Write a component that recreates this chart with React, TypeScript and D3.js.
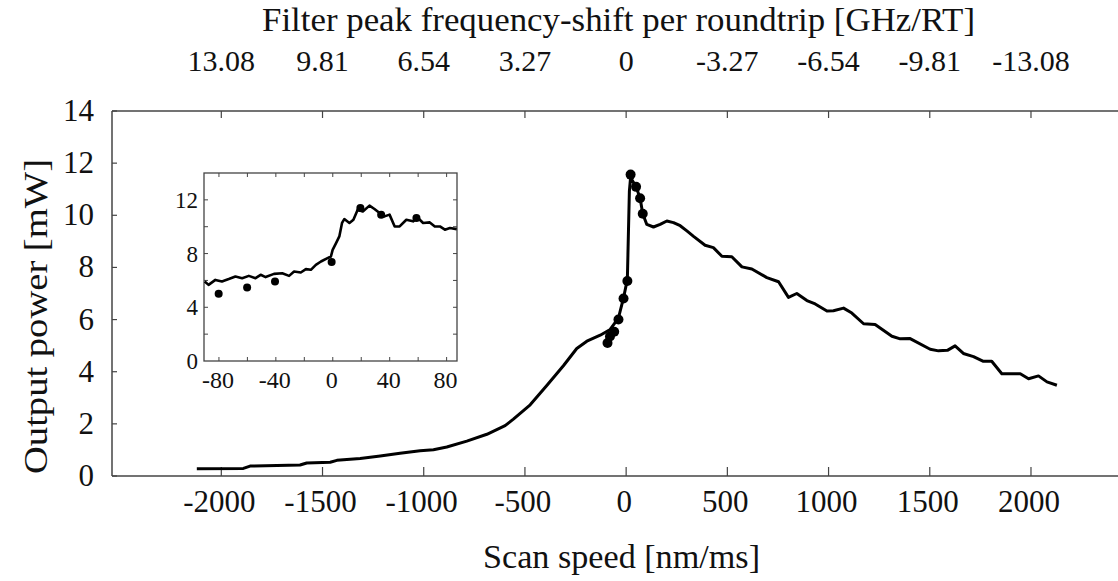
import React from "react";
import * as d3 from "d3";

// ---- main curve: scan speed [nm/ms] vs output power [mW]
const scanSpeed = [
  -2121, -1891, -1858, -1611, -1578, -1462, -1429, -1314, -1215, -1117, -1018, -952, -886, -787, -688, -598, -557,
  -474, -392, -310, -244, -194, -128, -79, -38, -13, 6, 16, 22, 49, 69, 82, 102, 135, 168, 201, 234, 267, 300,
  333, 390, 431, 473, 522, 572, 621, 695, 753, 802, 843, 893, 934, 992, 1024, 1074, 1115, 1173, 1230, 1313,
  1354, 1403, 1502, 1543, 1587, 1625, 1666, 1716, 1765, 1806, 1856, 1947, 1988, 2037, 2079, 2128,
];
const outputPower = [
  0.28, 0.29, 0.38, 0.42, 0.5, 0.53, 0.6, 0.67, 0.77, 0.87, 0.97, 1.01, 1.11, 1.34, 1.6, 1.93, 2.18,
  2.73, 3.47, 4.23, 4.89, 5.17, 5.4, 5.62, 6.06, 6.83, 7.54, 10.93, 11.45, 11.09, 10.65, 10.06, 9.65, 9.55, 9.65, 9.78, 9.72, 9.6, 9.4,
  9.19, 8.85, 8.76, 8.43, 8.41, 8.02, 7.94, 7.61, 7.45, 6.85, 7.0, 6.73, 6.6, 6.33, 6.34, 6.44, 6.25, 5.84, 5.81, 5.36,
  5.26, 5.27, 4.86, 4.8, 4.82, 4.99, 4.7, 4.58, 4.4, 4.4, 3.92, 3.92, 3.73, 3.84, 3.61, 3.48,
];
// measured points (dots) on the main curve
const dotSpeed = [-92, -80, -59, -38, -13, 6, 22, 49, 69, 82];
const dotPower = [5.1, 5.35, 5.53, 6.0, 6.81, 7.48, 11.56, 11.09, 10.65, 10.06];

// ---- inset
const insetSpeed = [
  -90, -87.3, -82.5, -77.9, -73.1, -68.4, -63.7, -59, -54.3, -50.7, -47.2, -41.3, -35.5, -30.7, -27.2, -22.5, -18.9,
  -15.4, -11.9, -8.3, -3.7, -1.3, -0.1, 2.3, 4.6, 6.5, 8.1, 11.7, 14.5, 17.5, 21.1, 25.8, 29.3, 32.9, 36.4, 39.9,
  43.5, 47, 51.7, 56.4, 59.9, 63.5, 68.2, 71.7, 75.3, 78.8, 82.3, 87.1,
];
const insetPower = [
  5.92, 5.67, 6.04, 5.92, 6.1, 6.29, 6.17, 6.34, 6.17, 6.42, 6.25, 6.49, 6.54, 6.34, 6.66, 6.59, 6.84,
  6.79, 7.16, 7.41, 7.66, 7.78, 8.28, 8.78, 9.28, 10.28, 10.57, 10.28, 10.52, 11.27, 11.14, 11.57, 11.32, 11.02, 10.77, 10.9,
  10.02, 10.02, 10.52, 10.4, 10.65, 10.28, 10.32, 10.02, 10.02, 9.78, 9.9, 9.82,
];
const insetDotSpeed = [-80.2, -60.2, -40.6, -0.8, 19.4, 34, 58.8];
const insetDotPower = [5.0, 5.47, 5.92, 7.37, 11.4, 10.9, 10.65];

// ---- ticks
const xTicks = [-2000, -1500, -1000, -500, 0, 500, 1000, 1500, 2000];
const yTicks = [0, 2, 4, 6, 8, 10, 12, 14];
const topTicks = [13.08, 9.81, 6.54, 3.27, 0, -3.27, -6.54, -9.81, -13.08];
const ghzPerSpeed = -0.00654; // GHz/RT per nm/ms
const insetXTicks = [-80, -40, 0, 40, 80];
const insetXMinor = [-80, -60, -40, -20, 0, 20, 40, 60, 80];
const insetYTicks = [0, 4, 8, 12];
const insetYMinor = [2, 4, 6, 8, 10, 12];

const FONT = "Liberation Serif, Times New Roman, Times, serif";

export default function App() {
  const W = 1118, H = 581;
  const xDom: [number, number] = [-2540, 2420];
  const x = d3.scaleLinear().domain(xDom).range([112, 1116]);
  const xTop = d3.scaleLinear().domain([xDom[0] * ghzPerSpeed, xDom[1] * ghzPerSpeed]).range([112, 1116]);
  const y = d3.scaleLinear().domain([0, 14]).range([476, 111]);

  const ix = d3.scaleLinear().domain([-90.5, 87.3]).range([204, 457]);
  const iy = d3.scaleLinear().domain([0, 14]).range([361, 173]);

  const mainPts = scanSpeed.map((s, i) => [s, outputPower[i]] as [number, number]);
  const insetPts = insetSpeed.map((s, i) => [s, insetPower[i]] as [number, number]);
  const line = d3.line<[number, number]>().x((d) => x(d[0])).y((d) => y(d[1]));
  const iline = d3.line<[number, number]>().x((d) => ix(d[0])).y((d) => iy(d[1]));

  const axisColor = "#444";
  const ts = { fontFamily: FONT };
  return (
    <svg width={W} height={H} style={{ position: "absolute", left: 0, top: 0, background: "#fff", fontFamily: FONT }}>
      <rect width={W} height={H} fill="#fff" />
      {/* title */}
      <text x={262} y={31} fontSize={33} style={ts} textLength={713} lengthAdjust="spacingAndGlyphs" fill="#111">
        Filter peak frequency-shift per roundtrip [GHz/RT]
      </text>
      {/* top axis */}
      <line x1={112} x2={W} y1={111} y2={111} stroke={axisColor} strokeWidth={1.5} />
      {topTicks.map((t) => (
        <g key={"tt" + t}>
          <line x1={xTop(t)} x2={xTop(t)} y1={111} y2={118} stroke={axisColor} strokeWidth={1.2} />
          <text x={xTop(t)} y={71} fontSize={30} style={ts} textAnchor="middle" fill="#111">
            {String(t)}
          </text>
        </g>
      ))}
      {/* left axis */}
      <line x1={112} x2={112} y1={111} y2={476} stroke={axisColor} strokeWidth={1.5} />
      {yTicks.map((t) => (
        <g key={"yt" + t}>
          <line x1={112} x2={117} y1={y(t)} y2={y(t)} stroke={axisColor} strokeWidth={1.2} />
          <text x={94} y={y(t) + 10} fontSize={31} style={ts} textAnchor="end" fill="#111">
            {t}
          </text>
        </g>
      ))}
      {/* bottom axis */}
      <line x1={112} x2={W} y1={476} y2={476} stroke={axisColor} strokeWidth={1.5} />
      {xTicks.map((t) => (
        <g key={"xt" + t}>
          <line x1={x(t)} x2={x(t)} y1={476} y2={467} stroke={axisColor} strokeWidth={1.2} />
          <text x={x(t) - 2} y={512} fontSize={31} style={ts} textAnchor="middle" fill="#111">
            {String(t)}
          </text>
        </g>
      ))}
      <text x={483} y={568} fontSize={34} style={ts} textLength={277} lengthAdjust="spacingAndGlyphs" fill="#111">
        Scan speed [nm/ms]
      </text>
      <text
        transform="translate(47,474) rotate(-90)"
        fontSize={34}
        style={ts}
        textLength={315}
        lengthAdjust="spacingAndGlyphs"
        fill="#111"
      >
        Output power [mW]
      </text>

      {/* main curve */}
      <path d={line(mainPts) || ""} fill="none" stroke="#000" strokeWidth={3} strokeLinejoin="round" />
      {dotSpeed.map((s, i) => (
        <circle key={"d" + i} cx={x(s)} cy={y(dotPower[i])} r={5} fill="#000" />
      ))}

      {/* inset */}
      <rect x={204} y={173} width={253} height={188} fill="#fff" stroke={axisColor} strokeWidth={1.3} />
      {insetXMinor.map((t) => (
        <g key={"ixm" + t}>
          <line x1={ix(t)} x2={ix(t)} y1={361} y2={357} stroke={axisColor} strokeWidth={1} />
          <line x1={ix(t)} x2={ix(t)} y1={173} y2={177} stroke={axisColor} strokeWidth={1} />
        </g>
      ))}
      {insetYMinor.map((t) => (
        <g key={"iym" + t}>
          <line x1={204} x2={208} y1={iy(t)} y2={iy(t)} stroke={axisColor} strokeWidth={1} />
          <line x1={457} x2={453} y1={iy(t)} y2={iy(t)} stroke={axisColor} strokeWidth={1} />
        </g>
      ))}
      {insetXTicks.map((t) => (
        <text key={"ixt" + t} x={ix(t) - 1} y={388} fontSize={24} style={ts} textAnchor="middle" fill="#111">
          {String(t)}
        </text>
      ))}
      {insetYTicks.map((t) => (
        <text key={"iyt" + t} x={198} y={iy(t) + 8} fontSize={23} style={ts} textAnchor="end" fill="#111">
          {t}
        </text>
      ))}
      <path d={iline(insetPts) || ""} fill="none" stroke="#000" strokeWidth={2.6} strokeLinejoin="round" />
      {insetDotSpeed.map((s, i) => (
        <circle key={"id" + i} cx={ix(s)} cy={iy(insetDotPower[i])} r={4} fill="#000" />
      ))}
    </svg>
  );
}
